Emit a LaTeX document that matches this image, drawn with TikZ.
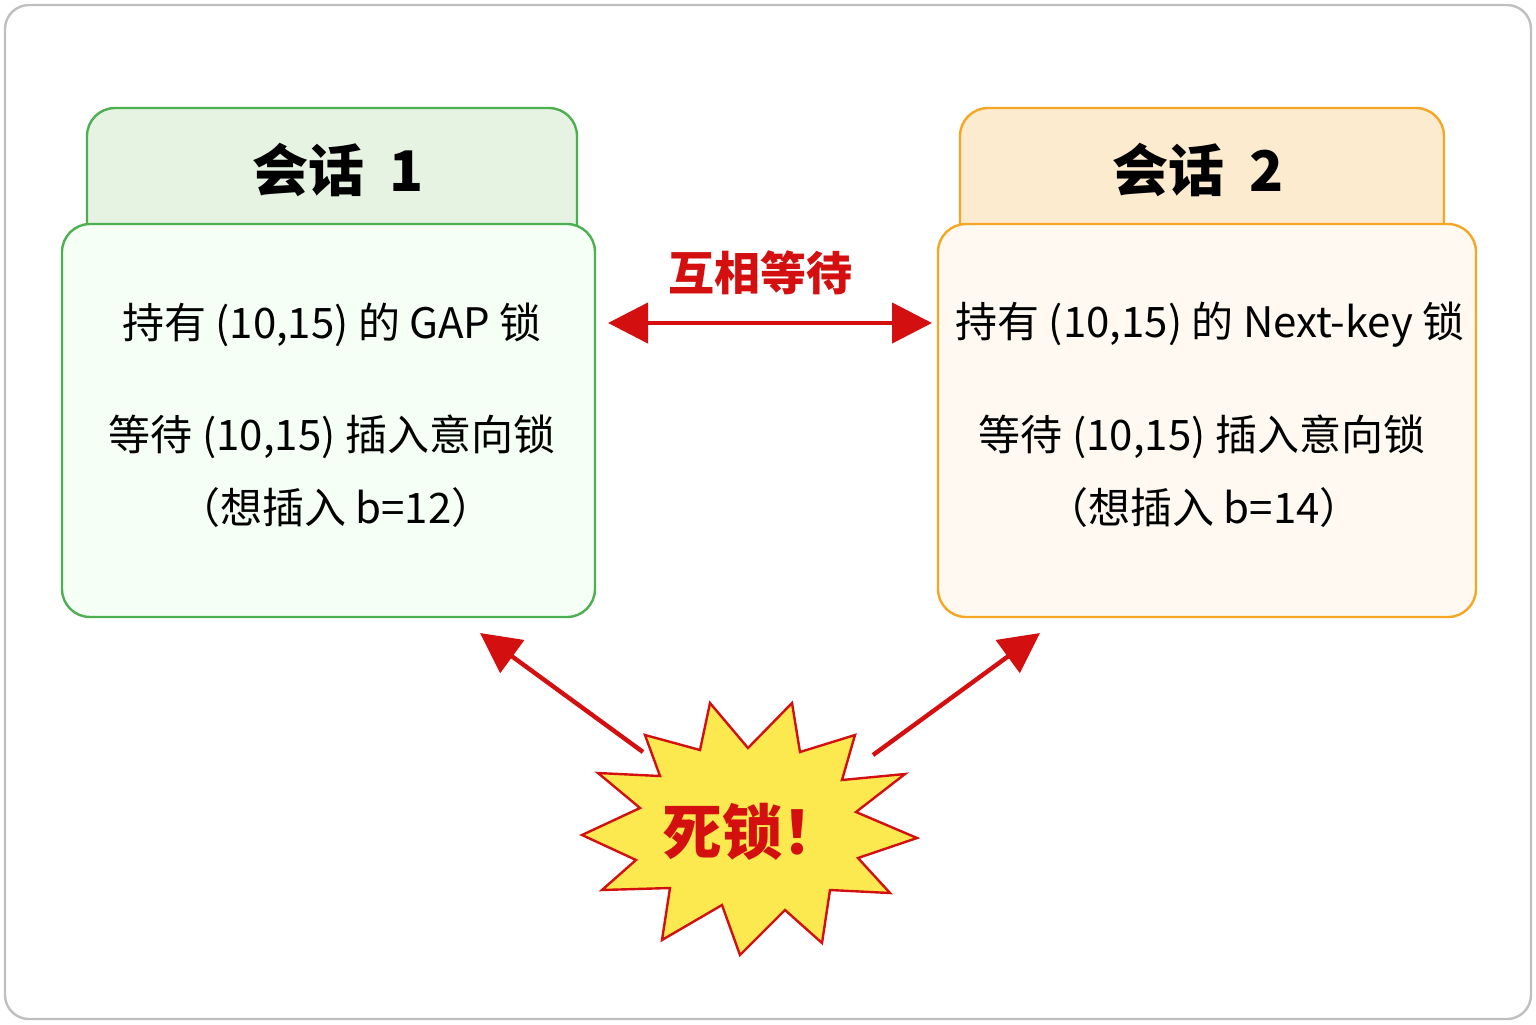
\documentclass[tikz,border=0pt]{standalone}
\usepackage{fontspec}
\setmainfont{Noto Sans CJK SC}
\usetikzlibrary{arrows.meta,positioning}
\definecolor{gfill}{HTML}{E6F3E3}
\definecolor{gline}{HTML}{4CAF50}
\definecolor{ofill}{HTML}{FDEBD0}
\definecolor{oline}{HTML}{F5A623}
\definecolor{arrred}{HTML}{D40F0F}
\definecolor{burst}{HTML}{FCE94F}
\tikzset{
  tab/.style={rounded corners=14pt,line width=1.2pt},
  body/.style={rounded corners=14pt,line width=1.2pt},
  head/.style={font=\fontsize{28}{30}\selectfont\bfseries},
  txt/.style={font=\fontsize{21}{24}\selectfont},
  warn/.style={-{Triangle[length=20pt,width=20pt]},arrred,line width=2.2pt}
}
\begin{document}
\begin{tikzpicture}[x=0.5pt,y=-0.5pt]
  \useasboundingbox (0,0) rectangle (1536,1024);
  \draw[gray!50,line width=1.2pt,rounded corners=12pt] (5,5) rectangle (1531,1019);

  % ---- session 1 ----
  \draw[tab,gline,fill=gfill] (87,240) -- (87,108) -- (577,108) -- (577,240);
  \draw[body,gline,fill=green!4] (62,224) rectangle (595,617);
  \node[head] (h1) at (338,170) {会话\ \ 1};
  \node[txt] (a1) at (332,325) {持有\ (10,15)\ 的\ GAP\ 锁};
  \node[txt] (a2) at (332,437) {等待 (10,15) 插入意向锁};
  \node[txt] (a3) at (336,508) {（想插入 b=12）};

  % ---- session 2 ----
  \draw[tab,oline,fill=ofill] (960,240) -- (960,108) -- (1444,108) -- (1444,240);
  \draw[body,oline,fill=orange!5] (938,224) rectangle (1476,617);
  \node[head] (h2) at (1198,170) {会话\ \ 2};
  \node[txt] (b1) at (1210,325) {持有 (10,15) 的 Next-key 锁};
  \node[txt] (b2) at (1202,437) {等待 (10,15) 插入意向锁};
  \node[txt] (b3) at (1204,508) {（想插入 b=14）};

  % ---- mutual wait ----
  \coordinate (wl) at (608,323);
  \coordinate (wr) at (932,323);
  \draw[{Triangle[length=20pt,width=20pt]}-{Triangle[length=20pt,width=20pt]},arrred,line width=2.2pt] (wl) -- (wr);
  \node[font=\fontsize{23}{26}\selectfont\bfseries,text=arrred] (mw) at (760,273) {互相等待};

  % ---- deadlock burst ----
  \coordinate (c) at (748,828);
  \draw[arrred,line width=1.2pt,fill=burst]
    (582,835) -- (640,808) -- (598,773) -- (660,776) -- (645,735) -- (700,750)
    -- (710,703) -- (748,748) -- (792,703) -- (800,752) -- (855,735) -- (842,780)
    -- (905,774) -- (856,812) -- (917,838) -- (858,858) -- (890,893) -- (830,890)
    -- (822,943) -- (785,910) -- (740,955) -- (722,905) -- (662,940) -- (670,888)
    -- (602,890) -- (636,860) -- cycle;
  \node[font=\fontsize{30}{34}\selectfont\bfseries,text=arrred] (dl) at (752,832) {死锁！};

  \coordinate (s1) at (643,752);
  \coordinate (t1) at (480,633);
  \coordinate (s2) at (873,755);
  \coordinate (t2) at (1040,633);
  \draw[warn] (s1) -- (t1);
  \draw[warn] (s2) -- (t2);
\end{tikzpicture}
\end{document}
